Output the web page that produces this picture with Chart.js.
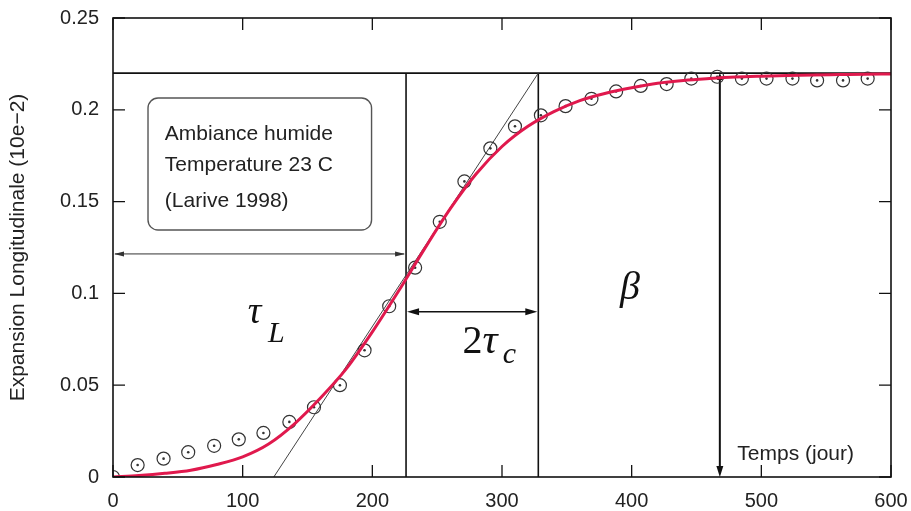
<!DOCTYPE html>
<html>
<head>
<meta charset="utf-8">
<script src="https://cdn.jsdelivr.net/npm/chart.js@4"></script>
<style>
  body { margin: 0; background: #fff; }
  canvas { display: block; }
</style>
</head>
<body>
<canvas id="c" width="911" height="511"></canvas>
<script>
// measured points (Larive 1998)
const days = [0, 19, 39, 58, 78, 97, 116, 136, 155, 175, 194, 213, 233, 252, 271, 291,
  310, 330, 349, 369, 388, 407, 427, 446, 466, 485, 504, 524, 543, 563, 582];
const expansion = [0, 0.0065, 0.010, 0.0135, 0.017, 0.0205, 0.024, 0.030, 0.038, 0.050,
  0.069, 0.093, 0.114, 0.139, 0.161, 0.179, 0.191, 0.197, 0.202, 0.206, 0.210, 0.213,
  0.214, 0.217, 0.218, 0.217, 0.217, 0.217, 0.216, 0.216, 0.217];

// fitted curve
const fitDays = [0, 20, 40, 60, 80, 100, 120, 140, 160, 180, 200, 220, 240, 260, 280, 300,
  320, 340, 360, 380, 400, 420, 440, 460, 480, 500, 520, 540, 560, 580, 600];
const fitValues = [0, 0.0008, 0.002, 0.0037, 0.0068, 0.011, 0.018, 0.029, 0.043, 0.059,
  0.079, 0.101, 0.124, 0.146, 0.165, 0.180, 0.191, 0.199, 0.205, 0.209, 0.212, 0.2145,
  0.216, 0.217, 0.2178, 0.2183, 0.2187, 0.219, 0.2192, 0.2194, 0.2195];

const xTicks = [0, 100, 200, 300, 400, 500, 600];
const yTicks = [0, 0.05, 0.1, 0.15, 0.2, 0.25];

// construction values
const asymptote = 0.22;
const tauL = 226;
const tauLEnd = 328;      // tauL + 2 tauC
const tangentStart = 124;
const betaDay = 468;
const tauLArrowY = 0.1215;
const tauCArrowY = 0.09;

const sans = '"Liberation Sans", Arial, Helvetica, sans-serif';
const serif = '"Liberation Serif", "DejaVu Serif", serif';

function arrowHead(ctx, x, y, angle, len, w) {
  ctx.save();
  ctx.translate(x, y);
  ctx.rotate(angle);
  ctx.beginPath();
  ctx.moveTo(0, 0);
  ctx.lineTo(-len, -w);
  ctx.lineTo(-len, w);
  ctx.closePath();
  ctx.fill();
  ctx.restore();
}

const decor = {
  id: 'decor',
  beforeDraw(chart) {
    const ctx = chart.ctx;
    ctx.save();
    ctx.fillStyle = '#fff';
    ctx.fillRect(0, 0, chart.width, chart.height);
    ctx.restore();
  },
  beforeDatasetsDraw(chart) {
    const { ctx, chartArea: a, scales: { x, y } } = chart;
    const px = v => x.getPixelForValue(v);
    const py = v => y.getPixelForValue(v);
    ctx.save();
    ctx.strokeStyle = '#111';
    ctx.fillStyle = '#111';

    // asymptote line
    ctx.lineWidth = 1.6;
    ctx.beginPath();
    ctx.moveTo(a.left, py(asymptote));
    ctx.lineTo(a.right, py(asymptote));
    ctx.stroke();

    // vertical lines
    [tauL, tauLEnd].forEach(d => {
      ctx.beginPath();
      ctx.moveTo(px(d), py(asymptote));
      ctx.lineTo(px(d), a.bottom);
      ctx.stroke();
    });

    // beta arrow
    ctx.lineWidth = 2;
    ctx.beginPath();
    ctx.moveTo(px(betaDay), py(asymptote) + 4);
    ctx.lineTo(px(betaDay), a.bottom - 8);
    ctx.stroke();
    arrowHead(ctx, px(betaDay), a.bottom, Math.PI / 2, 11, 3.5);
    arrowHead(ctx, px(betaDay), py(asymptote), -Math.PI / 2, 7, 3);

    // tangent
    ctx.lineWidth = 1;
    ctx.strokeStyle = '#444';
    ctx.beginPath();
    ctx.moveTo(px(tangentStart), a.bottom);
    ctx.lineTo(px(tauLEnd), py(asymptote));
    ctx.stroke();

    // tauL arrow
    ctx.strokeStyle = '#333';
    ctx.fillStyle = '#333';
    ctx.lineWidth = 1;
    ctx.beginPath();
    ctx.moveTo(a.left + 2, py(tauLArrowY));
    ctx.lineTo(px(tauL) - 2, py(tauLArrowY));
    ctx.stroke();
    arrowHead(ctx, a.left + 1, py(tauLArrowY), Math.PI, 10, 2.5);
    arrowHead(ctx, px(tauL) - 1, py(tauLArrowY), 0, 10, 2.5);

    // 2 tauC arrow
    ctx.strokeStyle = '#111';
    ctx.fillStyle = '#111';
    ctx.lineWidth = 1.6;
    ctx.beginPath();
    ctx.moveTo(px(tauL) + 6, py(tauCArrowY));
    ctx.lineTo(px(tauLEnd) - 6, py(tauCArrowY));
    ctx.stroke();
    arrowHead(ctx, px(tauL) + 1, py(tauCArrowY), Math.PI, 12, 3.5);
    arrowHead(ctx, px(tauLEnd) - 1, py(tauCArrowY), 0, 12, 3.5);

    // text box
    ctx.strokeStyle = '#555';
    ctx.lineWidth = 1.4;
    ctx.beginPath();
    ctx.roundRect(px(27), py(0.2064), px(199.4) - px(27), py(0.1345) - py(0.2064), 10);
    ctx.stroke();

    ctx.fillStyle = '#222';
    ctx.font = '21px ' + sans;
    ctx.textBaseline = 'alphabetic';
    ctx.textAlign = 'left';
    ctx.fillText('Ambiance humide', px(40), py(0.1835));
    ctx.fillText('Temperature 23 C', px(40), py(0.1665));
    ctx.fillText('(Larive 1998)', px(40), py(0.147));

    ctx.fillText('Temps (jour)', px(481.5), py(0.0093));

    // greek labels
    ctx.fillStyle = '#111';
    ctx.font = 'italic 38px ' + serif;
    ctx.fillText('\u03c4', px(104), py(0.084));
    ctx.font = 'italic 30px ' + serif;
    ctx.fillText('L', px(119.5), py(0.0735));

    ctx.font = '40px ' + serif;
    ctx.fillText('2', px(269.5), py(0.0675));
    ctx.font = 'italic 42px ' + serif;
    ctx.fillText('\u03c4', px(285), py(0.0675));
    ctx.font = 'italic 30px ' + serif;
    ctx.fillText('c', px(300.5), py(0.062));

    ctx.font = 'italic 40px ' + serif;
    ctx.fillText('\u03b2', px(391), py(0.097));
    ctx.restore();
  },
  afterDraw(chart) {
    const { ctx, chartArea: a, scales: { x, y } } = chart;
    ctx.save();
    ctx.strokeStyle = '#111';
    ctx.lineWidth = 1.6;
    ctx.strokeRect(a.left, a.top, a.right - a.left, a.bottom - a.top);
    ctx.lineWidth = 1.3;
    const t = 12;
    xTicks.forEach(v => {
      const p = x.getPixelForValue(v);
      ctx.beginPath();
      ctx.moveTo(p, a.bottom); ctx.lineTo(p, a.bottom - t);
      ctx.moveTo(p, a.top); ctx.lineTo(p, a.top + t);
      ctx.stroke();
    });
    yTicks.forEach(v => {
      const p = y.getPixelForValue(v);
      ctx.beginPath();
      ctx.moveTo(a.left, p); ctx.lineTo(a.left + t, p);
      ctx.moveTo(a.right, p); ctx.lineTo(a.right - t, p);
      ctx.stroke();
    });
    ctx.restore();
  }
};

new Chart(document.getElementById('c'), {
  type: 'scatter',
  data: {
    datasets: [
      {
        type: 'line',
        data: fitDays.map((d, i) => ({ x: d, y: fitValues[i] })),
        borderColor: '#e0194d',
        borderWidth: 3,
        pointRadius: 0,
        cubicInterpolationMode: 'monotone',
        fill: false
      },
      {
        data: days.map((d, i) => ({ x: d, y: expansion[i] })),
        pointRadius: 1.3,
        pointBackgroundColor: '#333',
        pointBorderWidth: 0,
        pointHoverRadius: 1.3
      },
      {
        data: days.map((d, i) => ({ x: d, y: expansion[i] })),
        pointRadius: 6.5,
        pointBackgroundColor: 'rgba(255,255,255,0)',
        pointBorderColor: '#333',
        pointBorderWidth: 1.2,
        pointHoverRadius: 6.5
      }
    ]
  },
  options: {
    responsive: false,
    animation: false,
    events: [],
    layout: { padding: { top: 18, right: 20, left: 0, bottom: 0 } },
    plugins: { legend: { display: false }, tooltip: { enabled: false } },
    scales: {
      x: {
        type: 'linear',
        min: 0,
        max: 600,
        afterBuildTicks: s => { s.ticks = xTicks.map(v => ({ value: v })); },
        afterFit: s => { s.height = 34; s.paddingLeft = 0; s.paddingRight = 0; },
        grid: { display: false, drawTicks: false },
        border: { display: false },
        ticks: { color: '#222', font: { size: 20, family: sans }, padding: 12, maxRotation: 0 }
      },
      y: {
        type: 'linear',
        min: 0,
        max: 0.25,
        afterBuildTicks: s => { s.ticks = yTicks.map(v => ({ value: v })); },
        afterFit: s => { s.width = 113; s.paddingTop = 0; s.paddingBottom = 0; },
        grid: { display: false, drawTicks: false },
        border: { display: false },
        title: {
          display: true,
          text: 'Expansion Longitudinale (10e\u22122)',
          color: '#222',
          font: { size: 21, family: sans },
          padding: { top: 6, bottom: 0 }
        },
        ticks: {
          color: '#222',
          font: { size: 20, family: sans },
          padding: 14,
          callback: v => String(+v.toFixed(2))
        }
      }
    }
  },
  plugins: [decor]
});
</script>
</body>
</html>
